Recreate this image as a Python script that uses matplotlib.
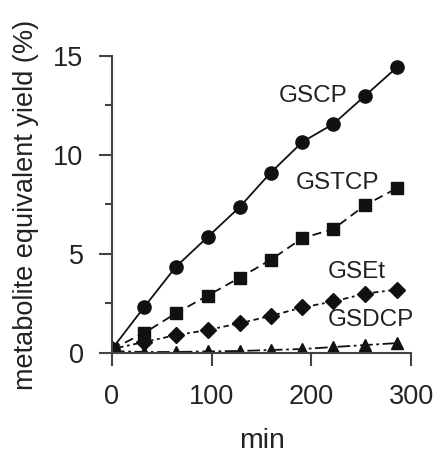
import numpy as np
import matplotlib.pyplot as plt
from matplotlib.ticker import MultipleLocator

plt.rcParams['font.family'] = ['Liberation Sans', 'DejaVu Sans']

# sampling times (min)
times = [0, 32, 64, 96, 128, 159, 191, 222, 254, 286]

# metabolite equivalent yield (%)
gscp = [0.2, 2.3, 4.35, 5.86, 7.37, 9.1, 10.66, 11.57, 13.0, 14.44]
gstcp = [0.2, 1.0, 2.0, 2.9, 3.8, 4.7, 5.8, 6.26, 7.47, 8.33]
gset = [0.2, 0.55, 0.9, 1.16, 1.5, 1.87, 2.3, 2.6, 3.0, 3.2]
gsdcp = [0.1, 0.05, 0.05, 0.08, 0.1, 0.15, 0.2, 0.3, 0.4, 0.5]

labels = ["GSCP", "GSTCP", "GSEt", "GSDCP"]
label_pos = [(167, 13.0), (184, 8.6), (216, 4.1), (216, 1.67)]

ink = "#111111"
axis_col = "#444444"


def main():
    fig = plt.figure(figsize=(4.38, 4.53), dpi=100)
    ax = fig.add_axes([0.2557, 0.2208, 0.683, 0.6556])

    ax.plot(times, gscp, color=ink, lw=1.3, ls='-', marker='o', ms=9.5)
    ax.plot(times, gstcp, color=ink, lw=1.3, ls=(0, (5, 3)), marker='s', ms=8)
    ax.plot(times, gset, color=ink, lw=1.3, ls=(0, (1.5, 2, 3, 2)), marker='D', ms=8.5)
    ax.plot(times, gsdcp, color=ink, lw=1.3, ls=(0, (7, 2, 1.5, 2)), marker='^', ms=8.5)

    for text, (x, y) in zip(labels, label_pos):
        ax.text(x, y, text, fontsize=17.5, color="#222222", va='center', ha='left')

    ax.set_xlim(0, 300)
    ax.set_ylim(0, 15)
    ax.xaxis.set_major_locator(MultipleLocator(100))
    ax.yaxis.set_major_locator(MultipleLocator(5))
    ax.yaxis.set_minor_locator(MultipleLocator(2.5))

    for side in ['top', 'right']:
        ax.spines[side].set_visible(False)
    for side in ['left', 'bottom']:
        ax.spines[side].set_color(axis_col)
        ax.spines[side].set_linewidth(1.5)

    ax.tick_params(which='major', length=9.5, width=1.5, color=axis_col,
                   labelsize=19.5, labelcolor="#222222")
    ax.tick_params(axis='x', which='major', pad=13)
    ax.tick_params(axis='y', which='major', pad=11)
    ax.tick_params(which='minor', length=5, width=1.5, color=axis_col)

    ax.set_xlabel("min", fontsize=20.5, color="#222222", labelpad=13)
    ax.set_ylabel("metabolite equivalent yield (%)", fontsize=19.5,
                  color="#222222", labelpad=10)

    fig.savefig("out.png", dpi=100)


if __name__ == "__main__":
    main()
